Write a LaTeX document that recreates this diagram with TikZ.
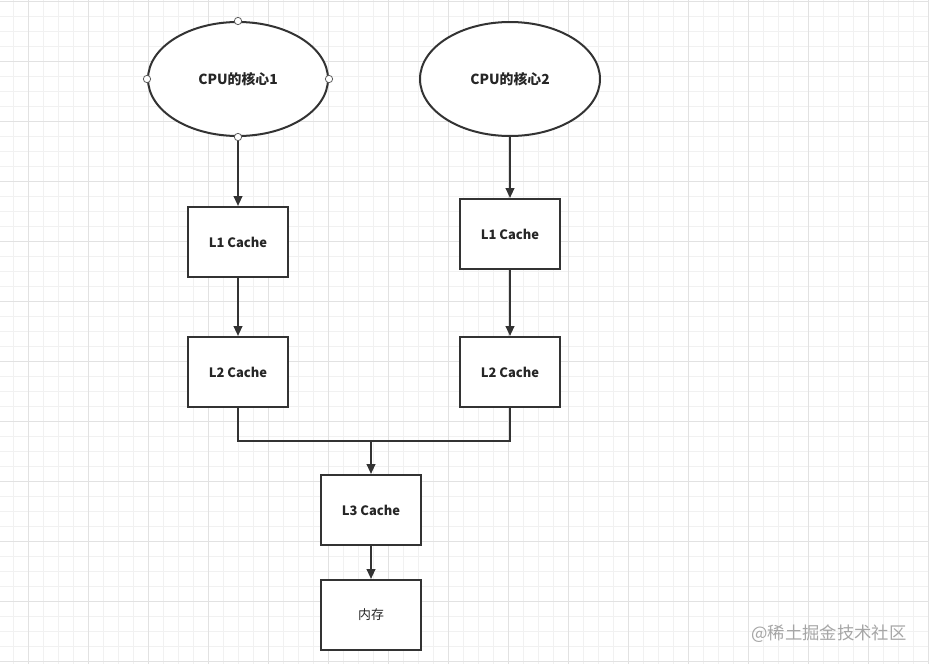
\documentclass[tikz,border=0pt]{standalone}
\usepackage{fontspec}
\setmainfont{Noto Sans CJK SC}
\usetikzlibrary{shapes.geometric,arrows.meta}
\definecolor{linegray}{HTML}{333333}
\definecolor{textgray}{HTML}{262626}
\definecolor{gridminor}{HTML}{F1F1F1}
\definecolor{gridmajor}{HTML}{E2E2E2}
\definecolor{markgray}{HTML}{A6A6A6}

\begin{document}
\begin{tikzpicture}[
		x=0.75pt,
		y=-0.75pt,
		>={Triangle[length=7.5pt,width=6.5pt]},
		font=\fontsize{9.7}{11}\selectfont\bfseries,
		text=textgray,
		core/.style={draw=linegray, line width=1.5pt, fill=white, ellipse, minimum width=135pt, minimum height=85.5pt, inner sep=0pt, font=\fontsize{10.4}{12}\selectfont\bfseries},
		cache/.style={draw=linegray, line width=1.5pt, fill=white, minimum width=75pt, minimum height=52.5pt, inner sep=0pt},
		port/.style={circle, draw=linegray!80, fill=white, line width=0.6pt, minimum size=5.5pt, inner sep=0pt},
		link/.style={draw=linegray, line width=1.5pt}
	]
	\useasboundingbox (0,0) rectangle (929,664);
	\fill[white] (0,0) rectangle (929,664);

	% grid
	\foreach \i in {0,...,61} \draw[gridminor, line width=0.6pt] ({13.3+15*\i},0) -- ++(0,664);
	\foreach \j in {0,...,44} \draw[gridminor, line width=0.6pt] (0,{1.7+15*\j}) -- ++(929,0);
	\foreach \i in {0,...,15} \draw[gridmajor, line width=0.6pt] ({28.3+60*\i},0) -- ++(0,664);
	\foreach \j in {0,...,11} \draw[gridmajor, line width=0.6pt] (0,{1.7+60*\j}) -- ++(929,0);

	\node[core] (core1) at (238,79) {CPU的核心1};
	\node[core] (core2) at (510,79) {CPU的核心2};

	\node[cache] (l1a) at (238,242) {L1 Cache};
	\node[cache] (l1b) at (510,234) {L1 Cache};
	\node[cache] (l2a) at (238,372) {L2 Cache};
	\node[cache] (l2b) at (510,372) {L2 Cache};
	\node[cache] (l3)  at (371,510) {L3 Cache};
	\node[cache, font=\fontsize{9.7}{11}\selectfont\mdseries] (mem) at (371,615) {内存};

	\coordinate (join) at (371,441);

	\draw[link, ->] (core1.south) -- (l1a.north);
	\draw[link, ->] (core2.south) -- (l1b.north);
	\draw[link, ->] (l1a.south) -- (l2a.north);
	\draw[link, ->] (l1b.south) -- (l2b.north);
	\draw[link] (l2a.south) |- (join);
	\draw[link] (l2b.south) |- (join);
	\draw[link, ->] (join) -- (l3.north);
	\draw[link, ->] (l3.south) -- (mem.north);

	\foreach \a in {north,south,east,west}
		\node[port] (core1-\a) at (core1.\a) {};

	\node[text=markgray, font=\fontsize{13}{15}\selectfont\mdseries] (mark) at (829,634) {@稀土掘金技术社区};
\end{tikzpicture}
\end{document}
